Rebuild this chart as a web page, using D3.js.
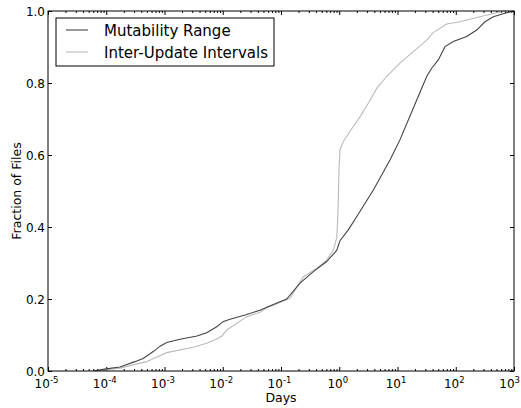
<!DOCTYPE html>
<html>
<head>
<meta charset="utf-8">
<script src="https://cdn.jsdelivr.net/npm/d3@7"></script>
<style>
body { margin: 0; background: #fff; }
text { font-family: "DejaVu Sans", sans-serif; }
</style>
</head>
<body>
<svg id="chart" width="521" height="408"></svg>
<script>
// ---- data ----
const seriesNames = ["Mutability Range", "Inter-Update Intervals"];
const seriesColors = ["#444444", "#bbbbbb"];

const mutDays = [5.9e-5, 1e-4, 1.72e-4, 3.1e-4, 4.3e-4, 6.4e-4, 8.4e-4, 1.09e-3, 1.85e-3, 3.6e-3, 5.3e-3, 7.9e-3, 1.01e-2, 1.33e-2, 2.5e-2, 4.36e-2, 5.67e-2, 0.125, 0.212, 0.359, 0.608, 0.904, 1.03, 1.43, 2.0, 3.85, 7.43, 11.0, 21.4, 31.7, 38.6, 50.2, 65.3, 90.8, 154, 229, 318, 441, 750, 973];
const mutFrac = [0, 0.006, 0.011, 0.026, 0.035, 0.054, 0.069, 0.079, 0.088, 0.097, 0.106, 0.123, 0.137, 0.144, 0.156, 0.169, 0.177, 0.200, 0.244, 0.276, 0.304, 0.335, 0.362, 0.392, 0.429, 0.503, 0.586, 0.642, 0.753, 0.818, 0.841, 0.864, 0.901, 0.915, 0.929, 0.947, 0.970, 0.984, 0.995, 1.0];

const iuiDays = [6.9e-5, 1.72e-4, 4.9e-4, 1.09e-3, 3.1e-3, 5.3e-3, 8.4e-3, 9.7e-3, 1.17e-2, 2.58e-2, 4.36e-2, 5.67e-2, 0.143, 0.242, 0.41, 0.608, 0.79, 0.904, 0.94, 0.964, 0.99, 1.03, 1.17, 1.74, 2.27, 3.15, 4.4, 6.5, 11.0, 18.7, 31.7, 41.2, 70, 118, 261, 505, 750];
const iuiFrac = [0, 0.008, 0.026, 0.051, 0.066, 0.077, 0.091, 0.097, 0.114, 0.151, 0.163, 0.175, 0.202, 0.262, 0.285, 0.308, 0.336, 0.370, 0.419, 0.475, 0.558, 0.614, 0.637, 0.679, 0.706, 0.744, 0.785, 0.818, 0.855, 0.887, 0.919, 0.940, 0.964, 0.970, 0.984, 0.995, 1.0];

const xExponents = [-5, -4, -3, -2, -1, 0, 1, 2, 3];
const yTicks = [0.0, 0.2, 0.4, 0.6, 0.8, 1.0];
const xLabel = "Days";
const yLabel = "Fraction of Files";

// ---- layout ----
const W = 521;
const svg = d3.select("#chart");
const L = 48, R = 514, T = 11, B = 371;
const x = d3.scaleLog().domain([1e-5, 1e3]).range([L, R]);
const y = d3.scaleLinear().domain([0, 1]).range([B, T]);

const majors = xExponents.map(e => Math.pow(10, e));
const minors = [];
for (let e = -5; e < 3; e++) for (let k = 2; k <= 9; k++) minors.push(k * Math.pow(10, e));

function styleAxis(g) {
  g.select(".domain").remove();
  g.selectAll(".tick line").attr("stroke", "#000").attr("stroke-width", 1);
  g.selectAll(".tick text").remove();
}

// bottom / top major & minor ticks (inward)
svg.append("g").attr("transform", `translate(0,${B})`)
  .call(d3.axisBottom(x).tickValues(majors).tickSize(-4).tickFormat("")).call(styleAxis);
svg.append("g").attr("transform", `translate(0,${B})`)
  .call(d3.axisBottom(x).tickValues(minors).tickSize(-2).tickFormat("")).call(styleAxis);
svg.append("g").attr("transform", `translate(0,${T})`)
  .call(d3.axisTop(x).tickValues(majors).tickSize(-4).tickFormat("")).call(styleAxis);
svg.append("g").attr("transform", `translate(0,${T})`)
  .call(d3.axisTop(x).tickValues(minors).tickSize(-2).tickFormat("")).call(styleAxis);
// left / right ticks
svg.append("g").attr("transform", `translate(${L},0)`)
  .call(d3.axisLeft(y).tickValues(yTicks).tickSize(-4).tickFormat("")).call(styleAxis);
svg.append("g").attr("transform", `translate(${R},0)`)
  .call(d3.axisRight(y).tickValues(yTicks).tickSize(-4).tickFormat("")).call(styleAxis);

// x tick labels with superscripts
const xl = svg.append("g");
xExponents.forEach(e => {
  const t = xl.append("text")
    .attr("y", 388)
    .attr("text-anchor", "start")
    .attr("font-size", 12)
    .attr("fill", "#000");
  t.append("tspan").text("10");
  t.append("tspan").attr("dy", -5).attr("font-size", 8.5).text(e < 0 ? "-" + (-e) : String(e));
  const w = t.node().getComputedTextLength();
  let x0 = x(Math.pow(10, e)) - w / 2 - 1.5;
  if (x0 + w > W - 1) x0 = W - 1 - w;
  t.attr("x", x0);
});

// y tick labels
svg.append("g").selectAll("text").data(yTicks).join("text")
  .attr("x", L - 3)
  .attr("y", d => y(d) + 4.5)
  .attr("text-anchor", "end")
  .attr("font-size", 12)
  .attr("fill", "#000")
  .text(d => d.toFixed(1));

// axis labels
svg.append("text").attr("x", (L + R) / 2).attr("y", 402)
  .attr("text-anchor", "middle").attr("font-size", 12.5).text(xLabel);
svg.append("text").attr("transform", `translate(21,${(T + B) / 2}) rotate(-90)`)
  .attr("text-anchor", "middle").attr("font-size", 12.5).text(yLabel);

// lines
svg.append("clipPath").attr("id", "clip").append("rect")
  .attr("x", L).attr("y", T - 1).attr("width", R - L).attr("height", B - T + 1);
const line = d3.line().x(d => x(d[0])).y(d => y(d[1]));
const series = [
  d3.zip(mutDays, mutFrac),
  d3.zip(iuiDays, iuiFrac)
];
// draw light first, dark on top
[1, 0].forEach(i => {
  svg.append("path").datum(series[i])
    .attr("clip-path", "url(#clip)")
    .attr("fill", "none")
    .attr("stroke", seriesColors[i])
    .attr("stroke-width", 1.1)
    .attr("d", line);
});

// frame
svg.append("rect").attr("x", L).attr("y", T).attr("width", R - L).attr("height", B - T)
  .attr("fill", "none").attr("stroke", "#000").attr("stroke-width", 1);

// legend
const lg = svg.append("g");
lg.append("rect").attr("x", 56).attr("y", 18).attr("width", 218).attr("height", 48)
  .attr("fill", "#fff").attr("stroke", "#000").attr("stroke-width", 1);
seriesNames.forEach((n, i) => {
  const yy = 30 + i * 22;
  lg.append("line").attr("x1", 66).attr("x2", 88).attr("y1", yy).attr("y2", yy)
    .attr("stroke", seriesColors[i]).attr("stroke-width", 1.1);
  lg.append("text").attr("x", 104).attr("y", yy + 5.5).attr("font-size", 15).text(n);
});
</script>
</body>
</html>
